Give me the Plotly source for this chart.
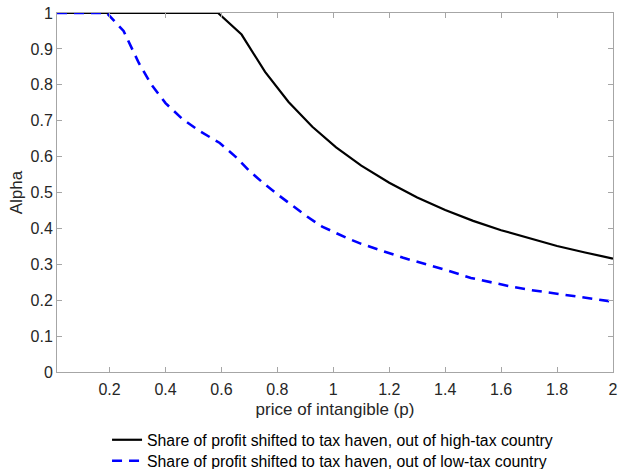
import plotly.graph_objects as go

# Data
price_high = [0.012, 0.588, 0.672, 0.756, 0.84, 0.925, 1.01, 1.1, 1.2, 1.3, 1.4, 1.5, 1.6, 1.7, 1.8, 1.9, 2.0]
alpha_high = [1.0, 1.0, 0.940, 0.836, 0.752, 0.683, 0.626, 0.575, 0.527, 0.486, 0.451, 0.421, 0.395, 0.372, 0.351, 0.333, 0.316]

price_low = [0.012, 0.19, 0.25, 0.305, 0.35, 0.40, 0.46, 0.52, 0.594, 0.65, 0.70, 0.75, 0.80, 0.85, 0.906,
             0.96, 1.0, 1.049, 1.1, 1.181, 1.25, 1.336, 1.4, 1.492, 1.563, 1.636, 1.7, 1.779, 1.85, 1.92, 2.0]
alpha_low = [1.0, 1.0, 0.95, 0.86, 0.80, 0.749, 0.705, 0.672, 0.638, 0.60, 0.56, 0.526, 0.495, 0.466, 0.433,
             0.405, 0.39, 0.373, 0.357, 0.336, 0.318, 0.299, 0.285, 0.262, 0.25, 0.238, 0.229, 0.220, 0.211, 0.204, 0.196]

x_ticks = [0.2, 0.4, 0.6, 0.8, 1.0, 1.2, 1.4, 1.6, 1.8, 2.0]
x_tick_labels = ["0.2", "0.4", "0.6", "0.8", "1", "1.2", "1.4", "1.6", "1.8", "2"]
y_ticks = [0, 0.1, 0.2, 0.3, 0.4, 0.5, 0.6, 0.7, 0.8, 0.9, 1.0]
y_tick_labels = ["0", "0.1", "0.2", "0.3", "0.4", "0.5", "0.6", "0.7", "0.8", "0.9", "1"]

name_high = "Share of profit shifted to tax haven, out of high-tax country"
name_low = "Share of profit shifted to tax haven, out of low-tax country"

FONT = "Liberation Sans, Arial, Helvetica, sans-serif"

fig = go.Figure()
fig.add_trace(go.Scatter(x=price_high, y=alpha_high, mode="lines", name=name_high,
                         line=dict(color="black", width=2.2), legend="legend"))
fig.add_trace(go.Scatter(x=price_low, y=alpha_low, mode="lines", name=name_low,
                         line=dict(color="#0000ff", width=2.6, dash="10px,7px"), legend="legend2"))

axis_common = dict(
    showgrid=False, zeroline=False, showline=True, linecolor="#a6a6a6", linewidth=1,
    mirror="ticks", ticks="inside", ticklen=5, tickcolor="#a6a6a6",
    tickfont=dict(family=FONT, size=16, color="#262626"),
    automargin=False,
)

legend_common = dict(x=0.09, xanchor="left", yanchor="middle",
                     font=dict(family=FONT, size=15.8, color="black"), bgcolor="rgba(0,0,0,0)")

fig.update_layout(
    width=618, height=469,
    margin=dict(l=57, r=5, t=13, b=97, autoexpand=False),
    paper_bgcolor="white", plot_bgcolor="white",
    font=dict(family=FONT, color="#262626"),
    showlegend=True,
    legend=dict(y=-0.1894, **legend_common),
    legend2=dict(y=-0.2479, **legend_common),
)
fig.update_xaxes(range=[0.012, 2.0], tickvals=x_ticks, ticktext=x_tick_labels, ticklabelstandoff=3,
                 title=dict(text="price of intangible (p)", font=dict(family=FONT, size=17, color="#262626"), standoff=5),
                 **axis_common)
fig.update_yaxes(range=[0, 1.0], tickvals=y_ticks, ticktext=y_tick_labels,
                 title=dict(text="Alpha", font=dict(family=FONT, size=17, color="#262626"), standoff=3),
                 **axis_common)

fig.write_html("out.html", config={"displayModeBar": False},
               post_script="document.body.style.margin='0';")
